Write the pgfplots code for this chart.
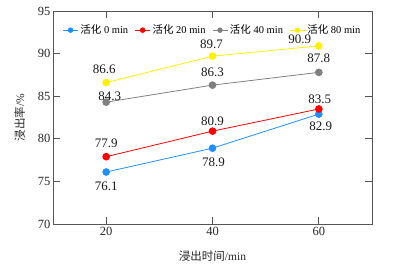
\documentclass[border=0pt]{standalone}
\usepackage{fontspec}
\setmainfont{Liberation Serif}
\newfontfamily\cjk{Noto Sans CJK SC}
\usepackage{pgfplots}
\pgfplotsset{compat=1.18}
\definecolor{cblue}{RGB}{30,144,255}
\definecolor{cred}{RGB}{255,0,0}
\definecolor{cgray}{RGB}{128,128,128}
\definecolor{cyel}{RGB}{255,240,0}
\definecolor{axgray}{RGB}{85,85,85}
\pgfplotsset{/pgf/number format/assume math mode=true}
\begin{document}
\begin{tikzpicture}
\begin{axis}[
  width=319pt, height=213pt, scale only axis,
  xmin=10, xmax=70, ymin=70, ymax=95,
  xtick={20,40,60}, ytick={70,75,80,85,90,95},
  tick align=inside, major tick length=7pt,
  axis line style={axgray, line width=0.8pt},
  every tick/.style={axgray, line width=0.8pt},
  tick label style={font=\fontsize{12.5}{14}\selectfont, text=black!85},
  yticklabel style={xshift=1pt},
  xlabel={{\cjk 浸出时间}/min},
  ylabel={{\cjk 浸出率}/\%},
  label style={font=\fontsize{11.5}{13}\selectfont, text=black!85},
  xlabel style={yshift=-8pt},
  ylabel style={yshift=6pt},
  legend style={at={(0.5,0.91)}, anchor=center, draw=none, fill=none,
    font=\fontsize{10.5}{12}\selectfont, legend columns=4,
    /tikz/every even column/.append style={column sep=4.5pt},
    inner sep=0pt},
  legend image code/.code={\draw[mark repeat=2,mark phase=2,mark size=2.3pt] plot coordinates {(0pt,0pt) (7.5pt,0pt) (15pt,0pt)};},
  nodes near coords={\pgfmathprintnumber[fixed,fixed zerofill,precision=1]{\pgfplotspointmeta}},
  visualization depends on={\thisrow{dx} \as \dx},
  visualization depends on={\thisrow{dy} \as \dy},
  every node near coord/.append style={anchor=center, xshift=\dx pt, yshift=\dy pt,
     font=\fontsize{13}{15}\selectfont, text=black!90, inner sep=0pt},
  point meta=y,
]
\addplot[cblue, line width=0.8pt, mark=*, mark size=3.4pt, mark options={solid, fill=cblue, draw=cblue}] table {
x y dx dy
20 76.1 0 -14.5
40 78.9 1 -14.5
60 82.9 2 -12.5
};
\addlegendentry{{\cjk 活化} 0 min}
\addplot[cred, line width=0.8pt, mark=*, mark size=3.4pt, mark options={solid, fill=cred, draw=cred}] table {
x y dx dy
20 77.9 0 13
40 80.9 0 10
60 83.5 1 10
};
\addlegendentry{{\cjk 活化} 20 min}
\addplot[cgray, line width=0.8pt, mark=*, mark size=3.4pt, mark options={solid, fill=cgray, draw=cgray}] table {
x y dx dy
20 84.3 3.5 5.5
40 86.3 0 12.5
60 87.8 0 14
};
\addlegendentry{{\cjk 活化} 40 min}
\addplot[cyel, line width=0.8pt, mark=*, mark size=3.4pt, mark options={solid, fill=cyel, draw=cyel}] table {
x y dx dy
20 86.6 -2 13
40 89.7 -1 12
60 90.9 -19 7
};
\addlegendentry{{\cjk 活化} 80 min}
\coordinate (SW) at (rel axis cs:0,0);
\coordinate (NE) at (rel axis cs:1,1);
\end{axis}
\path ([shift={(-53pt,-41pt)}]SW) rectangle ([shift={(21pt,11pt)}]NE);
\end{tikzpicture}
\end{document}
